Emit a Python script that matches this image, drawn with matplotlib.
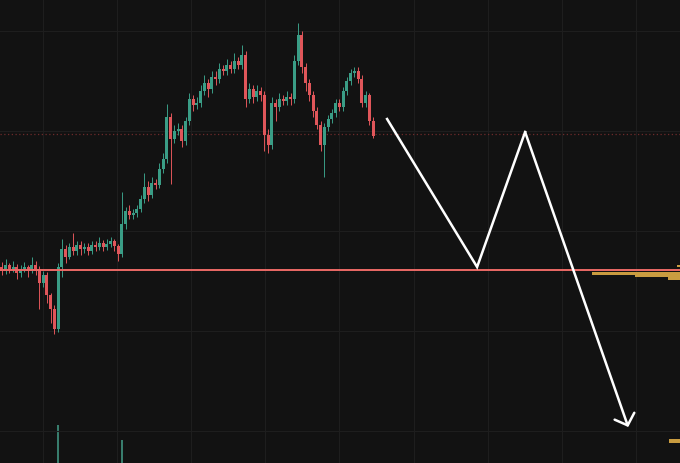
import matplotlib
matplotlib.use("Agg")
import matplotlib.pyplot as plt
import numpy as np

# --- data (price units) ---
first_open = 196
closes = [192, 198, 194, 196, 190, 194, 196, 192, 198, 194,
          180, 188, 168, 154, 134, 196, 214, 206, 216, 212,
          218, 214, 216, 212, 218, 216, 220, 216, 219, 222,
          217, 209, 239, 252, 248, 250, 254, 264, 276, 268,
          280, 278, 294, 304, 346, 324, 332, 334, 322, 342,
          364, 358, 360, 372, 380, 374, 386, 384, 394, 392,
          398, 394, 402, 398, 408, 364, 374, 366, 372, 368,
          328, 318, 360, 356, 364, 362, 366, 364, 402, 428,
          396, 380, 368, 352, 338, 318, 336, 344, 350, 360,
          356, 372, 382, 390, 392, 384, 360, 368, 342, 327]
highs = [201, 204, 200, 202, 199, 198, 201, 198, 206, 202,
         197, 192, 191, 170, 158, 200, 224, 218, 220, 230,
         222, 222, 220, 220, 222, 222, 226, 223, 224, 226,
         224, 219, 271, 256, 258, 254, 258, 268, 290, 282,
         286, 284, 300, 310, 359, 350, 338, 340, 338, 346,
         370, 368, 366, 378, 388, 384, 392, 392, 400, 398,
         404, 402, 410, 406, 418, 412, 380, 378, 378, 376,
         372, 334, 366, 364, 370, 368, 372, 370, 408, 440,
         432, 400, 384, 372, 356, 342, 340, 348, 354, 364,
         364, 376, 386, 394, 396, 396, 388, 372, 370, 346]
lows = [188, 189, 190, 191, 184, 186, 191, 186, 190, 188,
        154, 176, 160, 140, 129, 131, 186, 200, 204, 208,
        208, 208, 210, 208, 209, 212, 213, 212, 213, 216,
        212, 202, 206, 234, 244, 244, 246, 251, 260, 262,
        265, 274, 275, 290, 300, 279, 320, 328, 316, 318,
        338, 352, 354, 356, 368, 366, 370, 378, 380, 388,
        388, 390, 390, 394, 394, 356, 360, 360, 362, 362,
        312, 310, 314, 342, 352, 358, 358, 358, 360, 398,
        390, 372, 362, 346, 334, 312, 286, 332, 340, 346,
        352, 352, 368, 378, 386, 380, 356, 356, 338, 325]
volumes = [60, 45, 40, 38, 52, 41, 36, 44, 50, 42,
           85, 60, 90, 95, 98, 138, 92, 70, 55, 48,
           46, 44, 40, 42, 45, 41, 44, 40, 42, 46,
           48, 70, 123, 88, 60, 52, 55, 66, 80, 62,
           70, 50, 75, 72, 98, 90, 60, 55, 58, 70,
           85, 60, 50, 66, 70, 58, 62, 50, 60, 48,
           55, 50, 58, 52, 62, 96, 64, 55, 50, 48,
           92, 80, 88, 52, 50, 45, 46, 44, 90, 96,
           92, 78, 70, 72, 70, 80, 82, 60, 55, 60,
           50, 62, 58, 55, 48, 52, 72, 50, 70, 66]

support_level = 193
last_price = 329

# projected path: (bar index, price)
path_idx = [102.7, 126.7, 139.5, 167.0]
path_price = [344, 196, 331, 36]

# volume profile on the right edge
profile_levels = [197, 190, 187, 184.5, 22]
profile_sizes = [0.5, 13.0, 6.6, 1.8, 1.6]
profile_heights = [2.5, 3.0, 2.2, 3.0, 4.0]

opens = [first_open] + closes[:-1]
x = np.arange(len(closes))
up = np.array(closes) >= np.array(opens)
col_up = '#3a9d86'
col_dn = '#e0565a'
colors = np.where(up, col_up, col_dn)
bg = '#121212'

fig = plt.figure(figsize=(6.8, 4.64), dpi=100, facecolor=bg)
ax = fig.add_axes([0, 0, 1, 1])

# volume (only the tallest bars reach into view)
axv = ax.twinx()
axv.set_facecolor(bg)
axv.bar(x, volumes, width=0.6, color='#3d8a78', alpha=0.9, zorder=1)
axv.set_ylim(100, 564)
axv.set_xlim(-0.507, 180.8)
axv.axis('off')

ax.set_zorder(axv.get_zorder() + 1)
ax.patch.set_visible(False)

# grid
for gx in np.arange(11, 181, 19.75):
    ax.axvline(gx, color='#1e1e1e', lw=0.8, zorder=0)
for gy in [32, 132, 232, 332, 432]:
    ax.axhline(gy, color='#1e1e1e', lw=0.8, zorder=0)

# candles
ax.vlines(x, lows, highs, colors=colors, lw=0.7, zorder=3)
bottoms = np.minimum(opens, closes)
heights = np.maximum(np.abs(np.array(closes) - np.array(opens)), 1.5)
ax.bar(x, heights, bottom=bottoms, width=0.8, color=colors, zorder=4)

# price lines
ax.axhline(last_price, color='#6e2a2a', lw=0.9, ls=(0, (1, 2)), zorder=2)
ax.axhline(support_level, color='#ec6a66', lw=1.4, zorder=5)

# volume profile
axp = ax.twiny()
axp.set_xlim(100, 0)
axp.barh(profile_levels, profile_sizes, height=profile_heights,
         color='#c99c40', zorder=6)
axp.set_ylim(0, 464)
axp.axis('off')

# projected zigzag
ax.plot(path_idx[:-1], path_price[:-1], color='white', lw=1.8, zorder=7,
        solid_joinstyle='miter')
ax.annotate('', xy=(path_idx[-1], path_price[-1]),
            xytext=(path_idx[-2], path_price[-2]),
            arrowprops=dict(arrowstyle='->,head_length=0.7,head_width=0.75',
                            color='white', lw=1.8, shrinkA=0, shrinkB=0),
            zorder=8)

ax.set_xlim(-0.507, 180.8)
ax.set_ylim(0, 464)
ax.axis('off')

fig.savefig('out.png', dpi=100, facecolor=bg)
